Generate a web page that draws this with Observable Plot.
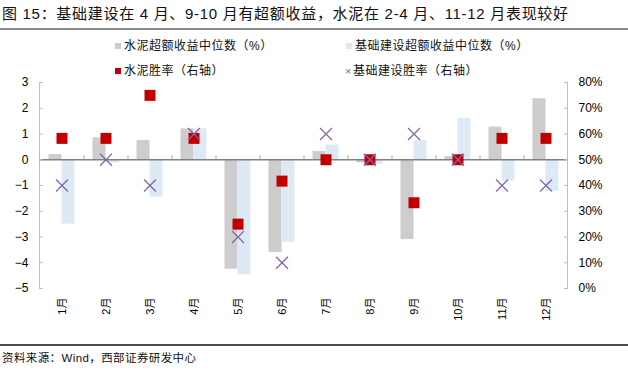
<!DOCTYPE html>
<html>
<head>
<meta charset="utf-8">
<script src="https://cdn.jsdelivr.net/npm/d3@7"></script>
<script src="https://cdn.jsdelivr.net/npm/@observablehq/plot@0.6"></script>
<style>
  html, body { margin: 0; padding: 0; background: #fff; }
  #wrap { position: relative; width: 628px; height: 375px; overflow: hidden; background: #fff;
          font-family: "Liberation Sans", Arial, "Noto Sans CJK SC", sans-serif; color: #000; }
  .abs { position: absolute; white-space: nowrap; }
  .title { left: 2px; top: 5px; font-size: 15px; letter-spacing: 0.7px; line-height: 18px; color: #111; }
  .rule1 { left: 0; top: 28px; width: 628px; height: 2px; background: #8c8c8c; }
  .leg { font-size: 12px; letter-spacing: 0.5px; line-height: 14px; color: #111; }
  .sw { display: inline-block; width: 6px; height: 6px; margin-right: 3px; vertical-align: 1px; }
  .rule2 { left: 0; top: 344px; width: 628px; height: 1.5px; background: #4d4d4d; }
  .src { left: 2px; top: 351px; font-size: 11.5px; letter-spacing: 0.4px; line-height: 14px; color: #111; }
  #chart { left: 0; top: 76px; }
</style>
</head>
<body>
<div id="wrap">
  <div class="abs title">图 15：基础建设在 4 月、9-10 月有超额收益，水泥在 2-4 月、11-12 月表现较好</div>
  <div class="abs rule1"></div>
  <div class="abs leg" style="left:115px;top:39px"><span class="sw" style="background:#cdcdcd"></span>水泥超额收益中位数（%）</div>
  <div class="abs leg" style="left:346px;top:39px"><span class="sw" style="background:#dde9f5"></span>基础建设超额收益中位数（%）</div>
  <div class="abs leg" style="left:115px;top:64px"><span class="sw" style="background:#c00000"></span>水泥胜率（右轴）</div>
  <div class="abs leg" style="left:345px;top:64px"><span style="color:#7f63b0;font-size:11px;margin-right:1px">×</span>基础建设胜率（右轴）</div>
  <div class="abs" id="chart"></div>
  <div class="abs rule2"></div>
  <div class="abs src">资料来源：Wind，西部证券研发中心</div>
</div>
<script>
// ---- data ----
const months = ["1月","2月","3月","4月","5月","6月","7月","8月","9月","10月","11月","12月"];
const cementExcess = [0.2, 0.85, 0.75, 1.2, -4.25, -3.6, 0.32, -0.12, -3.1, 0.12, 1.27, 2.37];
const infraExcess  = [-2.5, -0.12, -1.45, 1.2, -4.47, -3.2, 0.57, -0.18, 0.75, 1.6, -0.83, -1.22];
const cementWin = [58.3, 58.3, 75, 58.3, 25, 41.7, 50, 50, 33.3, 50, 58.3, 58.3];
const infraWin  = [40, 50, 40, 60, 20, 10, 60, 50, 60, 50, 40, 40];
const leftTicks = [-5, -4, -3, -2, -1, 0, 1, 2, 3];
const rightTicks = [0, 10, 20, 30, 40, 50, 60, 70, 80];

const rows = months.map((m, i) => ({
  month: m, cement: cementExcess[i], infra: infraExcess[i],
  cWin: cementWin[i], iWin: infraWin[i]
}));
// right axis (%) mapped onto left axis units: 50% <-> 0, 10% per unit
const toLeft = p => (p - 50) / 10;

const chart = Plot.plot({
  width: 628,
  height: 254,
  marginLeft: 39,
  marginRight: 61,
  marginTop: 6,
  marginBottom: 42,
  style: { fontFamily: "'Liberation Sans', Arial, 'Noto Sans CJK SC', sans-serif", fontSize: "12px", color: "#000", background: "transparent", overflow: "visible" },
  x: { domain: months, paddingInner: 0.705, paddingOuter: 0.3525, axis: null },
  y: { domain: [-5, 3], axis: null },
  marks: [
    Plot.frame({ anchor: "left", stroke: "#bfbfbf" }),
    Plot.frame({ anchor: "right", stroke: "#bfbfbf" }),
    Plot.barY(rows, { x: "month", y: "cement", fill: "#cdcdcd", dx: -6.5 }),
    Plot.barY(rows, { x: "month", y: "infra", fill: "#dde9f5", dx: 6.5 }),
    Plot.ruleY([0], { stroke: "#808080", strokeWidth: 1.3 }),
    Plot.ruleX(months.slice(1), { x: d => d, dx: -22, y1: 0, y2: 0.15, stroke: "#a6a6a6" }),
    Plot.dot(rows, { x: "month", y: d => toLeft(d.cWin), symbol: "square", r: 6.2, fill: "#c00000" }),
    Plot.dot(rows, { x: "month", y: d => toLeft(d.iWin), symbol: "times", r: 5.5, stroke: "#7f63b0", strokeWidth: 1.2 }),
    Plot.axisY(leftTicks, { anchor: "left", tickSize: -4, tickPadding: 15, stroke: "#bfbfbf", fill: "#000", fontSize: 12 }),
    Plot.axisY(rightTicks.map(toLeft), { anchor: "right", tickSize: -4, tickPadding: 15, stroke: "#bfbfbf", fill: "#000", fontSize: 12,
      tickFormat: v => `${Math.round(v * 10 + 50)}%` }),
    Plot.axisX({ anchor: "bottom", tickSize: 0, tickPadding: 9, tickRotate: -90, fontSize: 11, fill: "#000", label: null })
  ]
});
document.getElementById("chart").appendChild(chart);
</script>
</body>
</html>
